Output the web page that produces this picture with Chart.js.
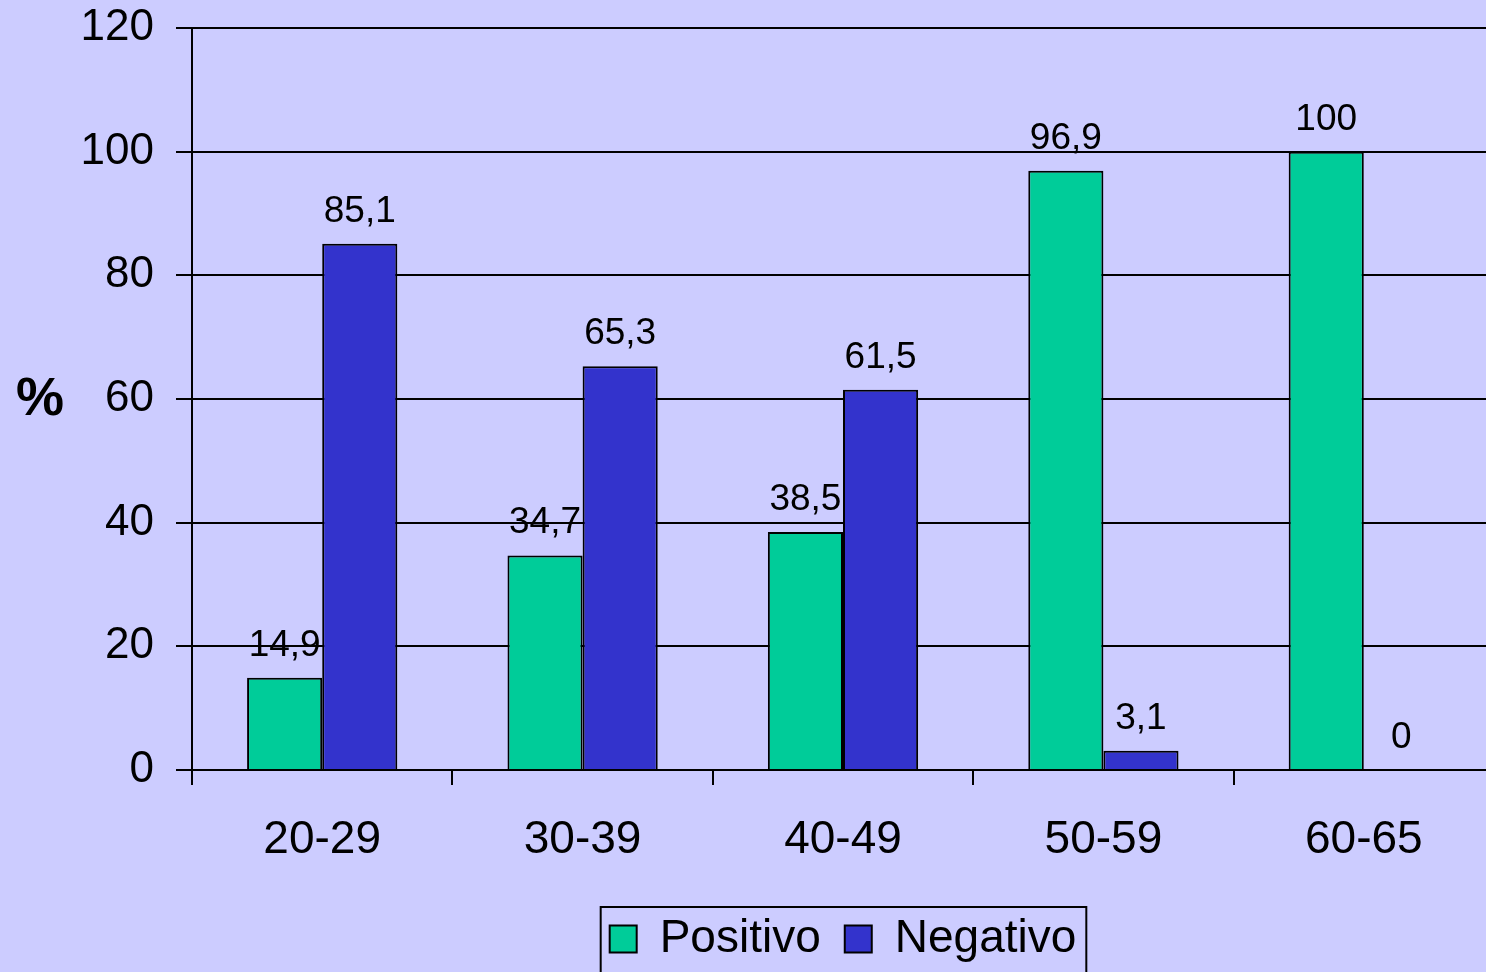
<!DOCTYPE html>
<html>
<head>
<meta charset="utf-8">
<script src="https://cdn.jsdelivr.net/npm/chart.js@4.4.1/dist/chart.umd.min.js"></script>
<style>
  html, body { margin: 0; padding: 0; background: #CCCCFF; overflow: hidden; }
  #wrap { position: relative; width: 1500px; height: 972px; }
</style>
</head>
<body>
<div id="wrap"><canvas id="c"></canvas></div>
<script>
const categories = ['20-29', '30-39', '40-49', '50-59', '60-65'];
const positivo = [14.9, 34.7, 38.5, 96.9, 100];
const negativo = [85.1, 65.3, 61.5, 3.1, 0];
const seriesNames = ['Positivo', 'Negativo'];
const yTitle = '%';

const FONT = '"Liberation Sans", Arial, sans-serif';

const labelPlugin = {
  id: 'valueLabels',
  afterDatasetsDraw(chart) {
    const ctx = chart.ctx;
    ctx.save();
    ctx.font = '37px ' + FONT;
    ctx.fillStyle = '#000';
    ctx.textAlign = 'center';
    ctx.textBaseline = 'alphabetic';
    chart.data.datasets.forEach((ds, i) => {
      const meta = chart.getDatasetMeta(i);
      meta.data.forEach((bar, j) => {
        const txt = String(ds.data[j]).replace('.', ',');
        ctx.fillText(txt, bar.x, bar.y - 22);
      });
    });
    ctx.restore();
  }
};

const extrasPlugin = {
  id: 'extras',
  afterLayout(chart) {
    const lg = chart.legend;
    const ca = chart.chartArea;
    if (lg && ca) {
      const d = (ca.left + ca.right) / 2 - (lg.left + lg.right) / 2;
      lg.left += d;
      lg.right += d;
    }
  },
  afterDraw(chart) {
    const ctx = chart.ctx;
    ctx.save();
    ctx.font = 'bold 54px ' + FONT;
    ctx.fillStyle = '#000';
    ctx.textAlign = 'center';
    ctx.textBaseline = 'middle';
    ctx.fillText(yTitle, 40, 400);
    const lg = chart.legend;
    if (lg && lg.legendHitBoxes && lg.legendHitBoxes.length) {
      const hb = lg.legendHitBoxes;
      const l = Math.min(...hb.map(h => h.left)) - 9;
      const r = Math.max(...hb.map(h => h.left + h.width)) + 10;
      const t = hb[0].top - 9;
      ctx.strokeStyle = '#000';
      ctx.lineWidth = 2;
      ctx.strokeRect(l, t, r - l, 200);
    }
    ctx.restore();
  }
};

new Chart(document.getElementById('c'), {
  type: 'bar',
  data: {
    labels: categories,
    datasets: [
      { label: seriesNames[0], data: positivo, backgroundColor: '#00CC99', borderColor: '#000', borderWidth: 2, borderSkipped: 'bottom' },
      { label: seriesNames[1], data: negativo, backgroundColor: '#3333CC', borderColor: '#000', borderWidth: 2, borderSkipped: 'bottom' }
    ]
  },
  options: {
    responsive: true,
    maintainAspectRatio: false,
    animation: false,
    datasets: { bar: { categoryPercentage: 0.577, barPercentage: 1.0 } },
    layout: { padding: { top: 0, right: 6, left: 0, bottom: 0 } },
    plugins: {
      legend: {
        position: 'bottom',
        labels: {
          font: { family: FONT, size: 46 },
          color: '#000',
          boxWidth: 27,
          boxHeight: 27,
          padding: 24,
          useBorderRadius: false
        }
      },
      tooltip: { enabled: false }
    },
    scales: {
      x: {
        grid: { display: true, drawOnChartArea: false, drawTicks: true, tickLength: 15, color: '#000', lineWidth: 2, offset: true },
        border: { display: true, color: '#000', width: 2 },
        ticks: { font: { family: FONT, size: 46 }, color: '#000', padding: 28 },
        afterFit(s) { s.height = 122; }
      },
      y: {
        min: 0, max: 120,
        ticks: { stepSize: 20, font: { family: FONT, size: 44 }, color: '#000', padding: 22 },
        grid: { color: '#000', lineWidth: 2, tickLength: 16 },
        border: { display: true, color: '#000', width: 2 },
        afterFit(s) { s.width = 192; s.paddingTop = 28; s.paddingBottom = 0; }
      }
    }
  },
  plugins: [labelPlugin, extrasPlugin]
});
</script>
</body>
</html>
